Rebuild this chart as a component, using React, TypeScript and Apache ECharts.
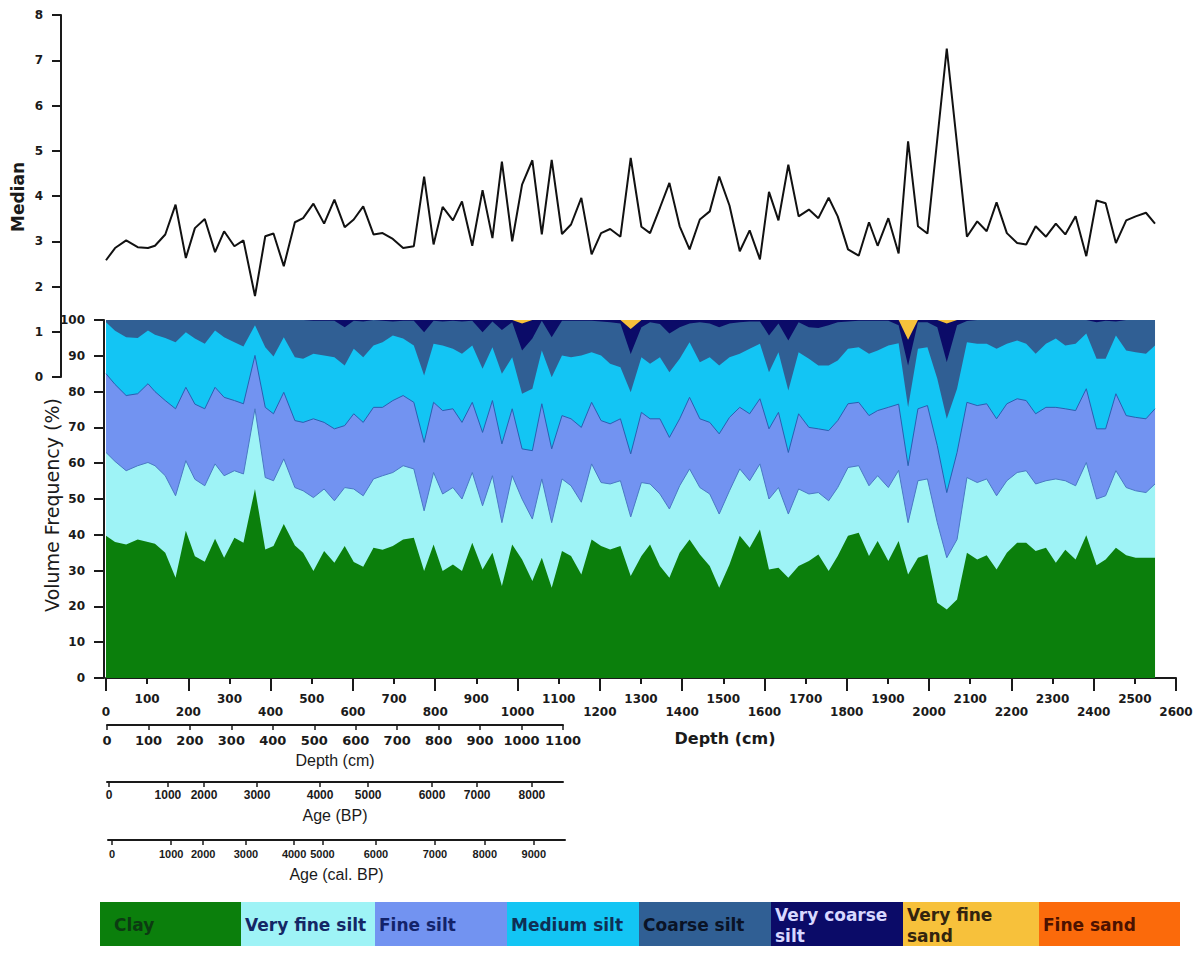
import React, { useEffect, useRef } from "react";
import * as echarts from "echarts";

// ---------- DATA ----------
// sample depths (cm)
const depths = [
  0, 22, 49, 77, 102, 119, 144, 169, 194, 216,
  240, 265, 287, 312, 334, 362, 387, 407, 432, 459,
  479, 504, 530, 555, 580, 602, 625, 650, 672, 697,
  722, 748, 773, 796, 818, 843, 865, 890, 915, 939,
  962, 987, 1011, 1036, 1059, 1083, 1108, 1130, 1155, 1180,
  1203, 1225, 1250, 1275, 1301, 1322, 1346, 1369, 1394, 1418,
  1443, 1467, 1490, 1515, 1540, 1564, 1589, 1611, 1634, 1658,
  1683, 1708, 1731, 1756, 1778, 1803, 1829, 1854, 1875, 1901,
  1926, 1949, 1973, 1996, 2020, 2043, 2068, 2092, 2117, 2140,
  2164, 2189, 2214, 2236, 2259, 2284, 2308, 2331, 2356, 2382,
  2407, 2429, 2454, 2479, 2502, 2527, 2549,
];

// median grain size
const medianValues: (number | null)[] = [
  2.58, 2.85, 3.02, 2.87, 2.85, 2.9, 3.15, 3.81, 2.63, 3.29,
  3.49, 2.76, 3.22, 2.89, 3.02, 1.79, 3.11, 3.17, 2.45, 3.42,
  3.51, 3.83, 3.39, 3.92, 3.31, 3.48, 3.77, 3.15, 3.18, 3.05,
  2.85, 2.89, 4.43, 2.93, 3.76, 3.46, 3.88, 2.9, 4.13, 3.07,
  4.76, 3.0, 4.25, 4.79, 3.15, 4.8, 3.16, 3.37, 3.96, 2.71,
  3.18, 3.27, 3.1, 4.84, 3.32, 3.18, 3.74, 4.29, 3.33, 2.82,
  3.48, 3.66, 4.43, 3.79, 2.78, 3.24, 2.6, 4.09, 3.46, 4.69,
  3.55, 3.7, 3.51, 3.96, 3.55, 2.82, 2.68, 3.42, 2.9, 3.51,
  2.73, 5.21, 3.33, 3.17, null, 7.26, null, 3.1, 3.44, 3.22,
  3.86, 3.18, 2.96, 2.93, 3.33, 3.1, 3.39, 3.15, 3.55, 2.67,
  3.9, 3.84, 2.96, 3.46, 3.55, 3.63, 3.39,
];

// cumulative volume frequency (%) at the top of each class
const clayCum = [
  39.7, 38.0, 37.3, 38.7, 38.0, 37.5, 35.0, 28.0, 41.1, 34.0,
  32.5, 38.9, 33.6, 39.2, 37.8, 52.8, 35.9, 36.9, 43.0, 37.0,
  35.0, 29.9, 35.5, 32.2, 36.9, 32.4, 31.1, 36.4, 35.8, 36.9,
  38.7, 39.2, 29.9, 37.3, 29.9, 31.7, 29.9, 37.8, 30.3, 35.0,
  25.7, 37.3, 33.1, 27.1, 33.6, 25.2, 35.5, 34.1, 28.9, 38.7,
  36.9, 35.9, 36.9, 28.5, 34.1, 37.3, 31.3, 28.0, 35.0, 38.7,
  34.5, 31.3, 25.2, 31.7, 39.7, 36.4, 41.5, 30.3, 30.8, 28.0,
  31.3, 32.7, 34.5, 29.9, 34.1, 39.7, 40.6, 34.1, 38.3, 32.7,
  38.3, 28.9, 33.6, 34.5, 21.0, 19.1, 21.9, 35.0, 33.1, 34.3,
  30.3, 35.0, 37.8, 37.8, 35.5, 36.4, 32.2, 35.8, 33.1, 39.9,
  31.5, 33.1, 36.4, 34.3, 33.6, 33.6, 33.6,
];
const veryFineSiltCum = [
  63.0, 60.5, 57.9, 59.3, 60.2, 59.3, 56.5, 50.9, 60.7, 55.5,
  53.7, 59.8, 56.5, 57.9, 57.0, 75.2, 56.0, 55.1, 61.2, 53.2,
  52.3, 50.4, 52.8, 49.5, 53.2, 52.8, 50.9, 55.6, 56.5, 57.4,
  59.3, 58.4, 46.7, 57.4, 51.4, 53.2, 50.0, 57.4, 48.1, 56.5,
  43.4, 56.5, 50.0, 44.4, 55.6, 43.4, 55.6, 53.7, 49.1, 59.8,
  54.6, 54.2, 55.1, 45.0, 54.6, 54.2, 51.4, 47.2, 53.7, 58.4,
  53.2, 51.4, 45.8, 52.3, 58.4, 55.1, 59.8, 50.0, 53.2, 45.8,
  52.8, 51.4, 51.8, 49.5, 53.2, 58.8, 59.3, 53.7, 56.5, 53.2,
  58.0, 43.4, 55.1, 55.6, 43.4, 33.6, 38.7, 56.0, 54.6, 55.6,
  50.9, 55.1, 57.4, 57.9, 54.2, 55.1, 55.6, 55.1, 53.7, 60.2,
  50.0, 50.9, 57.9, 53.2, 52.3, 51.8, 54.2,
];
const fineSiltCum = [
  85.0, 82.0, 78.9, 79.4, 82.2, 80.0, 77.5, 75.2, 81.2, 76.5,
  75.2, 81.2, 78.4, 77.5, 76.6, 90.1, 75.6, 73.8, 79.8, 71.9,
  71.4, 72.4, 71.4, 69.6, 70.5, 73.8, 71.4, 75.6, 75.6, 77.5,
  78.9, 77.0, 65.8, 77.0, 74.7, 75.2, 71.4, 77.0, 68.6, 77.5,
  65.4, 75.2, 64.0, 63.5, 76.6, 64.0, 73.3, 72.4, 70.0, 77.0,
  71.9, 71.0, 72.4, 62.6, 74.2, 72.4, 72.4, 67.2, 72.4, 78.4,
  72.4, 71.4, 68.2, 72.8, 75.6, 73.8, 78.0, 69.6, 74.2, 63.0,
  73.8, 70.0, 69.6, 69.1, 71.9, 76.6, 77.0, 73.3, 74.7, 75.6,
  76.5, 59.3, 75.2, 76.1, 64.9, 51.8, 63.0, 77.0, 76.1, 76.6,
  72.4, 76.6, 78.0, 77.5, 73.8, 75.6, 75.6, 75.2, 74.7, 80.8,
  69.6, 69.6, 79.4, 73.3, 72.8, 72.4, 75.2,
];
const mediumSiltCum = [
  99.4, 97.0, 95.2, 95.0, 97.1, 95.9, 95.0, 93.8, 96.6, 94.8,
  93.4, 97.1, 95.2, 93.8, 92.6, 98.5, 92.4, 89.8, 95.2, 89.6,
  89.2, 90.6, 90.1, 89.6, 87.3, 92.0, 89.6, 92.9, 93.8, 95.7,
  94.8, 92.9, 84.5, 93.4, 92.9, 92.0, 90.6, 92.9, 86.4, 92.4,
  85.0, 89.6, 79.4, 80.8, 91.5, 84.0, 90.1, 89.6, 90.1, 91.0,
  90.1, 87.8, 86.8, 79.8, 89.6, 87.8, 89.6, 85.4, 89.2, 93.8,
  88.2, 89.6, 87.3, 89.6, 90.6, 92.0, 93.4, 85.4, 91.0, 80.3,
  91.0, 89.2, 87.3, 87.3, 88.7, 92.0, 92.4, 90.6, 91.5, 92.9,
  93.5, 75.6, 92.0, 92.4, 83.6, 72.4, 80.8, 93.8, 93.4, 93.4,
  92.0, 93.4, 94.3, 93.4, 90.6, 93.4, 94.8, 92.9, 93.4, 96.2,
  89.2, 89.2, 95.7, 91.5, 91.0, 90.6, 92.9,
];
const coarseSiltCum = [
  100, 100, 100, 100, 100, 100, 100, 100, 100, 100,
  100, 100, 100, 100, 100, 100, 100, 100, 100, 100,
  100, 99.8, 99.8, 99.8, 98.0, 99.8, 99.6, 100, 99.8, 99.6,
  99.8, 99.8, 96.6, 99.8, 99.6, 99.8, 99.6, 99.8, 96.6, 99.6,
  97.2, 99.4, 91.5, 94.8, 99.8, 95.2, 99.8, 99.8, 99.8, 99.8,
  99.6, 99.4, 99.0, 90.5, 98.0, 99.4, 98.9, 96.2, 98.0, 99.0,
  99.4, 99.0, 98.0, 99.0, 99.4, 99.6, 99.6, 95.7, 99.0, 94.3,
  99.4, 98.0, 97.8, 98.5, 99.4, 99.6, 99.8, 99.8, 99.8, 99.8,
  98.5, 87.3, 99.4, 99.4, 98.0, 88.3, 98.5, 99.7, 100, 100,
  100, 100, 100, 100, 100, 100, 100, 100, 100, 100,
  99.4, 99.8, 99.6, 100, 100, 100, 100,
];
const veryCoarseSiltCum = [
  100, 100, 100, 100, 100, 100, 100, 100, 100, 100,
  100, 100, 100, 100, 100, 100, 100, 100, 100, 100,
  100, 100, 100, 100, 100, 100, 100, 100, 100, 100,
  100, 100, 100, 100, 100, 100, 100, 100, 100, 100,
  100, 100, 99.0, 100, 100, 100, 100, 100, 100, 100,
  100, 100, 100, 97.5, 100, 100, 100, 100, 100, 100,
  100, 100, 100, 100, 100, 100, 100, 100, 100, 100,
  100, 100, 100, 100, 100, 100, 100, 100, 100, 100,
  100, 94.5, 100, 100, 100, 99.0, 100, 100, 100, 100,
  100, 100, 100, 100, 100, 100, 100, 100, 100, 100,
  100, 100, 100, 100, 100, 100, 100,
];
// total of all classes (fine sand is absent, so very fine sand closes at 100 %)
const totalPercent = 100;

// secondary scale bars: age ticks and the depth (cm) where each sits
const ageBPLabels = [0, 1000, 2000, 3000, 4000, 5000, 6000, 7000, 8000];
const ageBPAtDepth = [5, 147, 234, 362, 514, 630, 784, 893, 1025];
const ageCalBPLabels = [0, 1000, 2000, 3000, 4000, 5000, 6000, 7000, 8000, 9000];
const ageCalBPAtDepth = [10, 152, 229, 332, 448, 516, 645, 787, 907, 1025];

// classes
const classNames = [
  "Clay",
  "Very fine silt",
  "Fine silt",
  "Medium silt",
  "Coarse silt",
  "Very coarse silt",
  "Very fine sand",
  "Fine sand",
];
const legendLabels = [
  "Clay",
  "Very fine silt",
  "Fine silt",
  "Medium silt",
  "Coarse silt",
  "Very coarse\nsilt",
  "Very fine\nsand",
  "Fine sand",
];

// ---------- STYLE ----------
const classColors = [
  "#0b7f0c",
  "#9ef3f6",
  "#7293f1",
  "#13c5f4",
  "#305f94",
  "#0b0b68",
  "#f7c13b",
  "#fb6a0b",
];
const legendTextColors = [
  "#0c3b12",
  "#142766",
  "#13236a",
  "#0f2f55",
  "#0a1326",
  "#d8d8ff",
  "#33240e",
  "#4d1200",
];

const AX = "'DejaVu Sans', sans-serif";
const ARIAL = "'Liberation Sans', Arial, sans-serif";
const INK = "#1a1a1a";

function nearestLabel(v: number, pos: number[], labels: number[]) {
  let best = -1;
  let bd = Infinity;
  pos.forEach((p, i) => {
    const d = Math.abs(p - v);
    if (d < bd) {
      bd = d;
      best = i;
    }
  });
  return bd < 1 ? String(labels[best]) : "";
}

function buildOption() {
  const pairs = (arr: (number | null)[]) => depths.map((d, i) => [d, arr[i]]);

  const areaLayers = [
    { idx: 6, data: depths.map((d) => [d, totalPercent]), line: 0, lineColor: "#000" },
    { idx: 5, data: pairs(veryCoarseSiltCum), line: 0, lineColor: "#000" },
    { idx: 4, data: pairs(coarseSiltCum), line: 0, lineColor: "#000" },
    { idx: 3, data: pairs(mediumSiltCum), line: 0, lineColor: "#000" },
    { idx: 2, data: pairs(fineSiltCum), line: 1, lineColor: "#2a5fb0" },
    { idx: 1, data: pairs(veryFineSiltCum), line: 1, lineColor: "#4a78c4" },
    { idx: 0, data: pairs(clayCum), line: 0, lineColor: "#000" },
  ];

  const areaSeries = areaLayers.map((l) => ({
    name: classNames[l.idx],
    type: "line",
    xAxisIndex: 1,
    yAxisIndex: 1,
    data: l.data,
    symbol: "none",
    silent: true,
    lineStyle: { width: l.line, color: l.lineColor },
    areaStyle: { color: classColors[l.idx], opacity: 1, origin: "start" },
  }));

  // legend blocks
  const edges = [100, 241, 375, 507, 639, 771, 903, 1039, 1180];
  const pads = [14, 4, 4, 4, 4, 4, 4, 4];
  const legendGraphics: any[] = [];
  legendLabels.forEach((lab, i) => {
    legendGraphics.push({
      type: "rect",
      shape: { x: edges[i], y: 902, width: edges[i + 1] - edges[i], height: 44 },
      style: { fill: classColors[i] },
      silent: true,
    });
    legendGraphics.push({
      type: "text",
      x: edges[i] + pads[i],
      y: 925,
      style: {
        text: lab,
        fill: legendTextColors[i],
        font: `bold 17px ${AX}`,
        textAlign: "left",
        textVerticalAlign: "middle",
        lineHeight: 21,
      },
      silent: true,
    });
  });

  const tickLabelStyle = {
    color: INK,
    fontFamily: AX,
    fontWeight: "bold",
    fontSize: 12,
  };

  return {
    animation: false,
    backgroundColor: "#ffffff",
    grid: [
      { left: 106, top: 15, width: 1070, height: 362 },
      { left: 106, top: 320, width: 1070, height: 358 },
      { left: 107, top: 724, width: 456, height: 1 },
      { left: 107, top: 781, width: 456, height: 1 },
      { left: 108, top: 839, width: 457, height: 1 },
    ],
    xAxis: [
      { gridIndex: 0, type: "value", min: 0, max: 2600, show: false },
      {
        gridIndex: 1,
        type: "value",
        min: 0,
        max: 2600,
        interval: 200,
        position: "bottom",
        axisLine: { show: true, onZero: false, lineStyle: { color: INK, width: 2 } },
        axisTick: { show: true, length: 13, lineStyle: { color: INK, width: 2 } },
        axisLabel: { ...tickLabelStyle, margin: 28, formatter: (v: number) => String(v) },
        splitLine: { show: false },
      },
      {
        gridIndex: 1,
        type: "value",
        min: 0,
        max: 2600,
        interval: 100,
        position: "bottom",
        axisLine: { show: false, onZero: false },
        axisTick: { show: true, length: 6, lineStyle: { color: INK, width: 2 } },
        axisLabel: {
          ...tickLabelStyle,
          margin: 15,
          formatter: (v: number) => (Math.round(v / 100) % 2 === 1 ? String(v) : ""),
        },
        splitLine: { show: false },
      },
      {
        gridIndex: 2,
        type: "value",
        min: 0,
        max: 1100,
        interval: 100,
        position: "bottom",
        axisLine: { show: true, onZero: false, lineStyle: { color: INK, width: 2 } },
        axisTick: { show: true, length: 5, lineStyle: { color: INK, width: 1.5 } },
        axisLabel: {
          color: INK,
          fontFamily: AX,
          fontWeight: "bold",
          fontSize: 13,
          margin: 9,
          formatter: (v: number) => String(v),
        },
        splitLine: { show: false },
        name: "Depth (cm)",
        nameLocation: "middle",
        nameGap: 27,
        nameTextStyle: { color: INK, fontFamily: ARIAL, fontSize: 16 },
      },
      {
        gridIndex: 3,
        type: "value",
        min: 0,
        max: 1100,
        position: "bottom",
        axisLine: { show: true, onZero: false, lineStyle: { color: INK, width: 2 } },
        axisTick: {
          show: true,
          length: 5,
          customValues: ageBPAtDepth,
          lineStyle: { color: INK, width: 1.5 },
        },
        axisLabel: {
          customValues: ageBPAtDepth,
          color: INK,
          fontFamily: ARIAL,
          fontWeight: "bold",
          fontSize: 12,
          margin: 7,
          formatter: (v: number) => nearestLabel(v, ageBPAtDepth, ageBPLabels),
        },
        splitLine: { show: false },
        name: "Age (BP)",
        nameLocation: "middle",
        nameGap: 25,
        nameTextStyle: { color: INK, fontFamily: ARIAL, fontSize: 16 },
      },
      {
        gridIndex: 4,
        type: "value",
        min: 0,
        max: 1100,
        position: "bottom",
        axisLine: { show: true, onZero: false, lineStyle: { color: INK, width: 2 } },
        axisTick: {
          show: true,
          length: 5,
          customValues: ageCalBPAtDepth,
          lineStyle: { color: INK, width: 1.5 },
        },
        axisLabel: {
          customValues: ageCalBPAtDepth,
          color: INK,
          fontFamily: ARIAL,
          fontWeight: "bold",
          fontSize: 11,
          margin: 8,
          formatter: (v: number) => nearestLabel(v, ageCalBPAtDepth, ageCalBPLabels),
        },
        splitLine: { show: false },
        name: "Age (cal. BP)",
        nameLocation: "middle",
        nameGap: 26,
        nameTextStyle: { color: INK, fontFamily: ARIAL, fontSize: 16 },
      },
    ],
    yAxis: [
      {
        gridIndex: 0,
        type: "value",
        min: 0,
        max: 8,
        interval: 1,
        offset: 45,
        axisLine: { show: true, onZero: false, lineStyle: { color: INK, width: 2 } },
        axisTick: { show: true, length: 9, lineStyle: { color: INK, width: 2 } },
        axisLabel: { ...tickLabelStyle, margin: 18 },
        splitLine: { show: false },
      },
      {
        gridIndex: 1,
        type: "value",
        min: 0,
        max: 100,
        interval: 10,
        offset: 2,
        axisLine: { show: true, onZero: false, lineStyle: { color: INK, width: 2 } },
        axisTick: { show: true, length: 10, lineStyle: { color: INK, width: 2 } },
        axisLabel: { ...tickLabelStyle, margin: 19 },
        splitLine: { show: false },
      },
      { gridIndex: 2, type: "value", min: 0, max: 1, show: false },
      { gridIndex: 3, type: "value", min: 0, max: 1, show: false },
      { gridIndex: 4, type: "value", min: 0, max: 1, show: false },
    ],
    series: [
      ...areaSeries,
      {
        name: "Median",
        type: "line",
        xAxisIndex: 0,
        yAxisIndex: 0,
        data: pairs(medianValues),
        connectNulls: true,
        symbol: "none",
        silent: true,
        z: 5,
        lineStyle: { color: "#111111", width: 2 },
      },
    ],
    graphic: [
      {
        type: "text",
        x: 18,
        y: 197,
        rotation: Math.PI / 2,
        style: {
          text: "Median",
          fill: INK,
          font: `bold 17px ${AX}`,
          textAlign: "center",
          textVerticalAlign: "middle",
        },
        silent: true,
      },
      {
        type: "text",
        x: 52,
        y: 505,
        rotation: Math.PI / 2,
        style: {
          text: "Volume Frequency (%)",
          fill: INK,
          font: `19px ${AX}`,
          textAlign: "center",
          textVerticalAlign: "middle",
        },
        silent: true,
      },
      {
        type: "text",
        x: 725,
        y: 738,
        style: {
          text: "Depth (cm)",
          fill: INK,
          font: `bold 16px ${AX}`,
          textAlign: "center",
          textVerticalAlign: "middle",
        },
        silent: true,
      },
      ...legendGraphics,
    ],
  };
}

export default function App() {
  const ref = useRef<HTMLDivElement>(null);
  useEffect(() => {
    if (!ref.current) return;
    const chart = echarts.init(ref.current, undefined, { renderer: "svg" });
    chart.setOption(buildOption() as any);
    return () => chart.dispose();
  }, []);
  return (
    <div
      ref={ref}
      style={{ position: "absolute", left: 0, top: 0, width: 1203, height: 971, background: "#fff" }}
    />
  );
}
